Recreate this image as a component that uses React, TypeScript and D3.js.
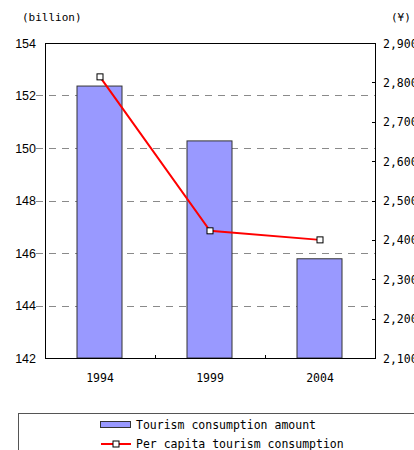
import React from "react";
import * as d3 from "d3";

const years = ["1994", "1999", "2004"];
const amount = [152.36, 150.27, 145.78];
const perCapita = [2814, 2423, 2400];
const leftTicks = [142, 144, 146, 148, 150, 152, 154];
const rightTicks = [2100, 2200, 2300, 2400, 2500, 2600, 2700, 2800, 2900];
const legendLabels = ["Tourism consumption amount", "Per capita tourism consumption"];

const mono = '"DejaVu Sans Mono", "Liberation Mono", monospace';
const sans = '"Liberation Sans", Arial, sans-serif';

const App = () => {
    const ref = React.useRef<SVGSVGElement>(null);

    React.useEffect(() => {
        const svg = d3.select(ref.current);
        svg.selectAll("*").remove();

        const left = 45, right = 375, top = 43, bottom = 358;

        const x = d3.scaleBand().domain(years).range([left, right]);
        const yL = d3.scaleLinear().domain([142, 154]).range([bottom, top]);
        const yR = d3.scaleLinear().domain([2100, 2900]).range([bottom, top]);

        // gridlines
        svg.append("g")
            .selectAll("line")
            .data(leftTicks.slice(1, -1))
            .join("line")
            .attr("x1", 36)
            .attr("x2", right)
            .attr("y1", d => Math.round(yL(d)) + 0.5)
            .attr("y2", d => Math.round(yL(d)) + 0.5)
            .attr("stroke", "#8a8a8a")
            .attr("stroke-dasharray", "7,6");

        // bars
        const bw = 45;
        svg.append("g")
            .selectAll("rect")
            .data(amount)
            .join("rect")
            .attr("x", (d, i) => x(years[i])! + x.bandwidth() / 2 - bw / 2 - 0.5)
            .attr("y", d => yL(d))
            .attr("width", bw)
            .attr("height", d => bottom - yL(d))
            .attr("fill", "#9999FF")
            .attr("stroke", "#333")
            .attr("stroke-width", 1);

        // frame
        svg.append("rect")
            .attr("x", left + 0.5)
            .attr("y", top + 0.5)
            .attr("width", right - left)
            .attr("height", bottom - top)
            .attr("fill", "none")
            .attr("stroke", "black");

        // x ticks (inward)
        svg.append("g")
            .selectAll("line")
            .data(years.slice(1))
            .join("line")
            .attr("x1", d => x(d)! + 0.5)
            .attr("x2", d => x(d)! + 0.5)
            .attr("y1", bottom)
            .attr("y2", bottom - 3)
            .attr("stroke", "black");

        // right ticks (inward)
        svg.append("g")
            .selectAll("line")
            .data(rightTicks.slice(1, -1))
            .join("line")
            .attr("x1", right + 0.5)
            .attr("x2", right - 3)
            .attr("y1", d => Math.round(yR(d)) + 0.5)
            .attr("y2", d => Math.round(yR(d)) + 0.5)
            .attr("stroke", "black");

        // left labels
        svg.append("g")
            .selectAll("text")
            .data(leftTicks)
            .join("text")
            .attr("x", 36)
            .attr("y", d => yL(d) + 4.5)
            .attr("text-anchor", "end")
            .attr("font-family", sans)
            .attr("font-size", "12.5px")
            .text(d => d);

        // right labels
        const fmt = d3.format(",");
        svg.append("g")
            .selectAll("text")
            .data(rightTicks)
            .join("text")
            .attr("x", 383)
            .attr("y", d => yR(d) + 4.5)
            .attr("font-family", mono)
            .attr("font-size", "11.5px")
            .text(d => fmt(d));

        // x labels
        svg.append("g")
            .selectAll("text")
            .data(years)
            .join("text")
            .attr("x", d => x(d)! + x.bandwidth() / 2)
            .attr("y", 382)
            .attr("text-anchor", "middle")
            .attr("font-family", mono)
            .attr("font-size", "11.5px")
            .text(d => d);

        // units
        svg.append("text").attr("x", 22).attr("y", 21)
            .attr("font-family", mono).attr("font-size", "11px").text("(billion)");
        svg.append("text").attr("x", 391).attr("y", 21)
            .attr("font-family", mono).attr("font-size", "11px").text("(¥)");

        // line
        const line = d3.line<number>()
            .x((d, i) => x(years[i])! + x.bandwidth() / 2)
            .y(d => yR(d));
        svg.append("path")
            .attr("d", line(perCapita))
            .attr("fill", "none")
            .attr("stroke", "#FF0000")
            .attr("stroke-width", 2);
        svg.append("g")
            .selectAll("rect")
            .data(perCapita)
            .join("rect")
            .attr("x", (d, i) => x(years[i])! + x.bandwidth() / 2 - 3)
            .attr("y", d => yR(d) - 3)
            .attr("width", 6)
            .attr("height", 6)
            .attr("fill", "white")
            .attr("stroke", "black");

        // legend
        const lg = svg.append("g");
        lg.append("rect")
            .attr("x", 18.5).attr("y", 413.5)
            .attr("width", 420).attr("height", 60)
            .attr("fill", "white").attr("stroke", "#555");
        lg.append("rect")
            .attr("x", 100.5).attr("y", 421.5)
            .attr("width", 30).attr("height", 6)
            .attr("fill", "#9999FF").attr("stroke", "#333");
        lg.append("line")
            .attr("x1", 101).attr("x2", 131)
            .attr("y1", 444).attr("y2", 444)
            .attr("stroke", "#FF0000").attr("stroke-width", 2);
        lg.append("rect")
            .attr("x", 113).attr("y", 441)
            .attr("width", 6).attr("height", 6)
            .attr("fill", "white").attr("stroke", "black");
        lg.selectAll("text.lbl")
            .data(legendLabels)
            .join("text")
            .attr("class", "lbl")
            .attr("x", 136)
            .attr("y", (d, i) => 429 + i * 19)
            .attr("font-family", mono)
            .attr("font-size", "11.5px")
            .text(d => d);
    }, []);

    return (
        <svg ref={ref} width={414} height={450}
            style={{ position: "absolute", left: 0, top: 0, background: "white" }} />
    );
};

export default App;
